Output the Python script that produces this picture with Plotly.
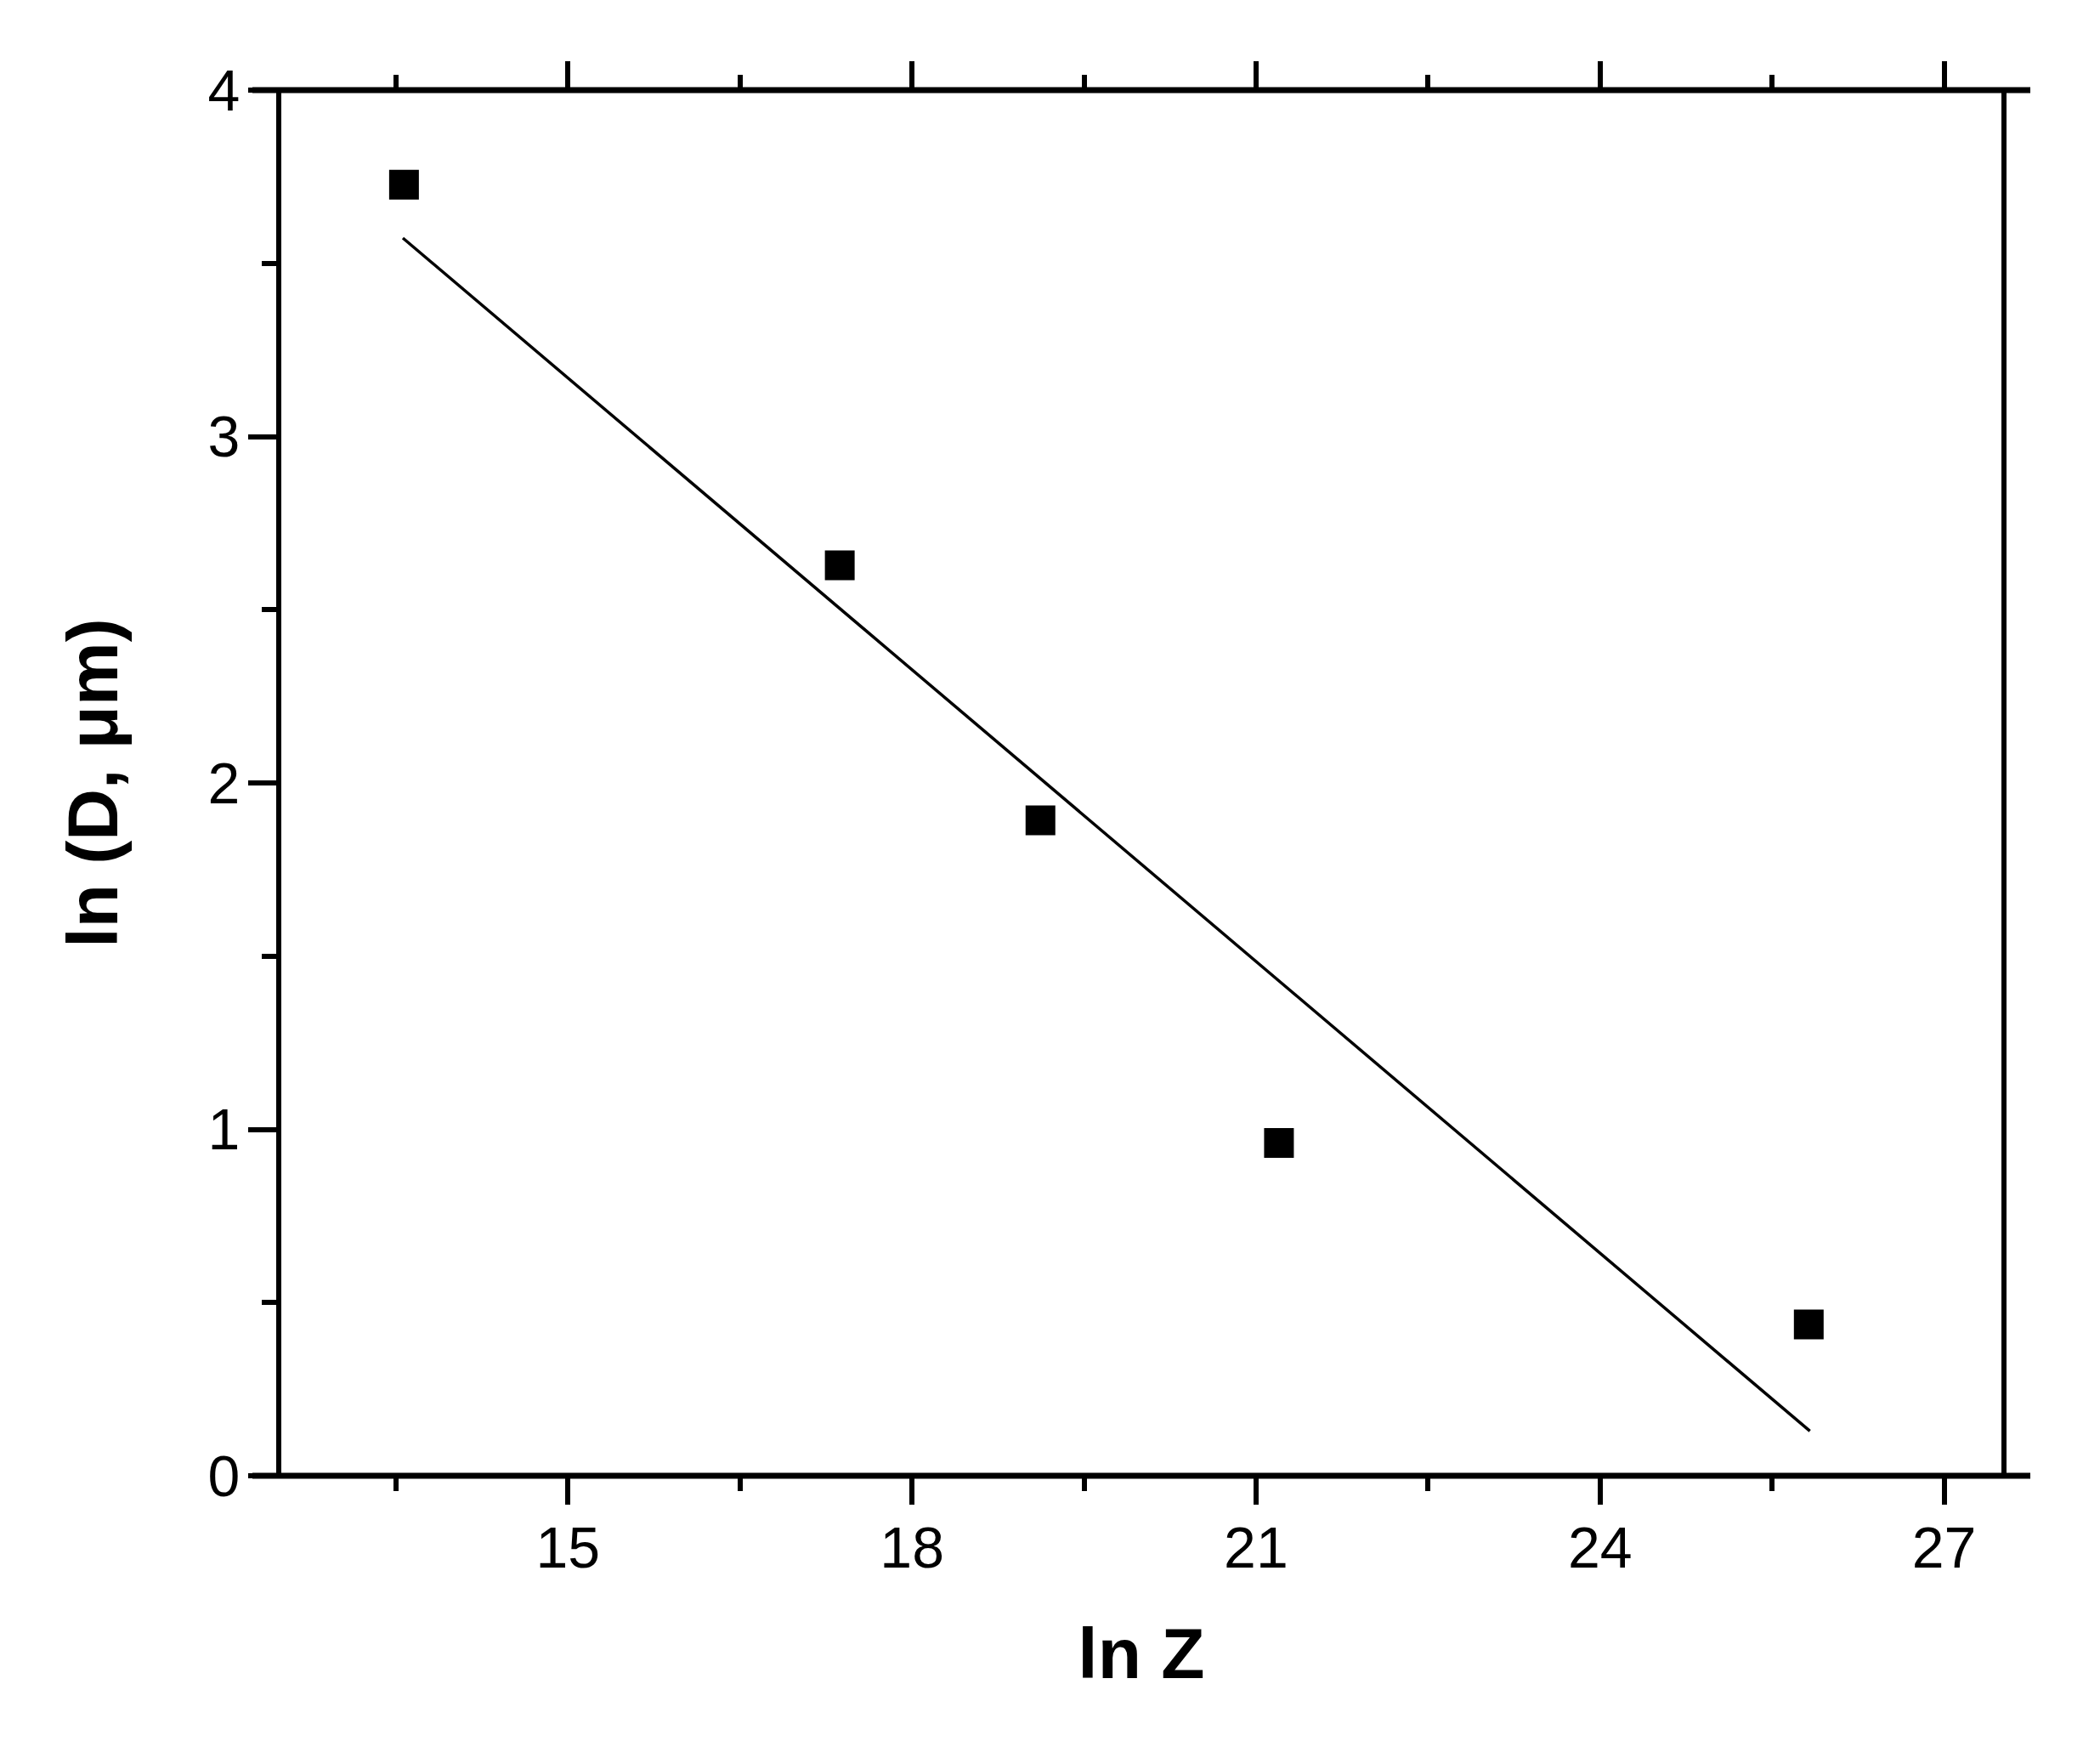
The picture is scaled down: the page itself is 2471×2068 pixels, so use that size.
import plotly.graph_objects as go

# Data
ln_z = [13.57, 17.37, 19.12, 21.20, 25.82]
ln_d = [3.727, 2.628, 1.892, 0.961, 0.437]

# Linear fit line endpoints
fit_x = [13.56, 25.83]
fit_y = [3.573, 0.129]

x_range = [12.5, 27.5]
y_range = [0, 4]
x_ticks = [15, 18, 21, 24, 27]
y_ticks = [0, 1, 2, 3, 4]

W, H = 2471, 2068
# page body has an 8px margin, compensate
L, R, T, B = 323, 124, 98, 340
plot_w = W - L - R

fig = go.Figure()
fig.add_trace(go.Scatter(
    x=fit_x, y=fit_y, mode="lines",
    line=dict(color="black", width=3.5), showlegend=False, hoverinfo="skip"))
fig.add_trace(go.Scatter(
    x=ln_z, y=ln_d, mode="markers",
    marker=dict(symbol="square", size=35, color="black"), showlegend=False))

font_tick = dict(family="Arial, Liberation Sans, sans-serif", size=68, color="black")
font_title = dict(family="Arial, Liberation Sans, sans-serif", size=84, color="black")

fig.update_xaxes(
    range=x_range, tickvals=x_ticks, ticktext=[str(v) for v in x_ticks],
    showgrid=False, zeroline=False, showline=False,
    ticks="outside", ticklen=33, tickwidth=6, tickcolor="black",
    mirror="ticks",
    minor=dict(ticks="outside", dtick=1.5, tick0=0, ticklen=17, tickwidth=6, tickcolor="black", showgrid=False),
    tickfont=font_tick, ticklabelstandoff=-8,
    title=dict(text="<b>ln Z</b>", font=font_title, standoff=58),
)
fig.update_yaxes(
    range=y_range, tickvals=y_ticks, ticktext=[str(v) for v in y_ticks],
    showgrid=False, zeroline=False, showline=True, linewidth=6, linecolor="black",
    ticks="outside", ticklen=33, tickwidth=6, tickcolor="black",
    mirror=True,
    minor=dict(ticks="outside", dtick=0.5, tick0=0, ticklen=17, tickwidth=6, tickcolor="black", showgrid=False),
    tickfont=font_tick, ticklabelstandoff=-4,
    title=dict(text="<b>ln (D, μm)</b>", font=font_title, standoff=80),
)

ext = 34 / plot_w
for yv in (0, 1):
    fig.add_shape(type="line", xref="paper", yref="paper",
                  x0=-ext, x1=1 + ext, y0=yv, y1=yv,
                  line=dict(color="black", width=7), layer="above")

fig.update_layout(
    width=W, height=H,
    margin=dict(l=L, r=R, t=T, b=B, autoexpand=False),
    plot_bgcolor="white", paper_bgcolor="white",
)

fig.write_html("out.html")
